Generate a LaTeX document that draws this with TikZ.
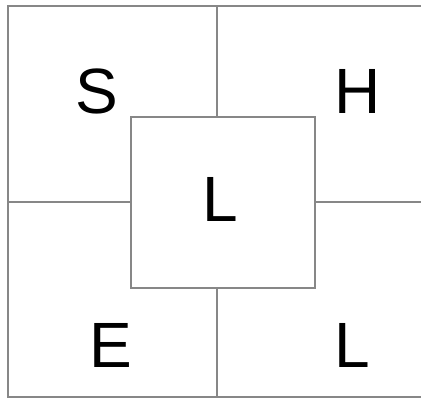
\documentclass[tikz,border=0pt]{standalone}
\usepackage{fontspec}
\setmainfont{Liberation Sans}
\begin{document}
\begin{tikzpicture}[x=1pt,y=-1pt,
  frame/.style={draw=black!47,line width=1.8pt},
  letter/.style={font=\fontsize{64}{70}\selectfont,anchor=base,inner sep=0pt,text=black}]
\useasboundingbox (0,0) rectangle (421,398);
\clip (0,0) rectangle (421,398);
\fill[white] (0,0) rectangle (421,398);
\draw[frame] (8,6) rectangle (426,397);
\coordinate (top) at (217,6);
\coordinate (bot) at (217,397);
\coordinate (lft) at (8,202);
\coordinate (rgt) at (426,202);
\node[frame,fill=white,minimum width=184pt,minimum height=171pt,inner sep=0pt] (box) at (223,202.5) {};
\draw[frame] (top) -- (top |- box.north);
\draw[frame] (bot) -- (bot |- box.south);
\draw[frame] (lft) -- (lft -| box.west);
\draw[frame] (rgt) -- (rgt -| box.east);
\node[letter] (s) at (97,114) {S};
\node[letter] (h) at (357.5,114) {H};
\node[letter] (c) at (220,222) {L};
\node[letter] (e) at (111,368) {E};
\node[letter] (l) at (352,368) {L};
\end{tikzpicture}
\end{document}
